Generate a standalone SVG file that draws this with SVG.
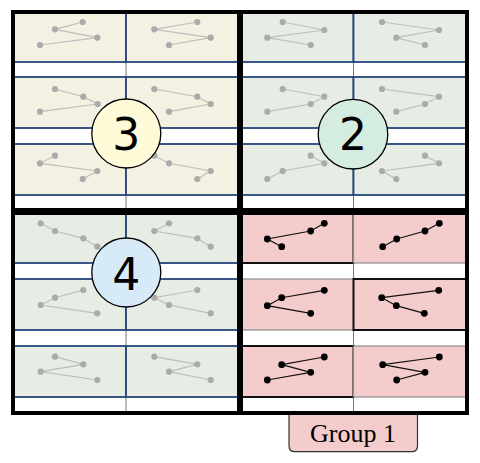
<svg xmlns="http://www.w3.org/2000/svg" width="480" height="463" viewBox="0 0 480 463">
<style>
.pa{fill:#f3f1e1;stroke:#25467a;stroke-width:1.8}
.pb{fill:#e7ece5;stroke:#25467a;stroke-width:1.8}
.pk{fill:#f4cccc;stroke:#111;stroke-width:2}
.pg{fill:#f4cccc;stroke:#8a8a8a;stroke-width:1.2}
.gl{fill:none;stroke:#bdbdbd;stroke-width:1.2;marker-start:url(#gd);marker-mid:url(#gd);marker-end:url(#gd)}
.bl{fill:none;stroke:#111;stroke-width:1.2;marker-start:url(#bd);marker-mid:url(#bd);marker-end:url(#bd)}
.q{fill:none;stroke:#000;stroke-width:4}
.c{stroke:#000;stroke-width:1.3}
.n{font-family:"DejaVu Sans",sans-serif;font-size:44px;text-anchor:middle;fill:#000}
.div{stroke:#777;stroke-width:1}
</style>
<defs>
<marker id="gd" markerWidth="8" markerHeight="8" refX="4" refY="4" markerUnits="userSpaceOnUse"><circle cx="4" cy="4" r="3.1" fill="#ababab"/></marker>
<marker id="bd" markerWidth="9" markerHeight="9" refX="4.5" refY="4.5" markerUnits="userSpaceOnUse"><circle cx="4.5" cy="4.5" r="3.4" fill="#000"/></marker>
</defs>
<rect width="480" height="463" fill="#fff"/>
<g id="dividers">
<line class="div" x1="126" y1="12" x2="126" y2="413"/>
<line class="div" x1="353.5" y1="12" x2="353.5" y2="413"/>
</g>
<g id="group1-label">
<path d="M289,413 V445.7 Q289,451.7 295,451.7 H411.5 Q417.5,451.7 417.5,445.7 V413" fill="#f4cccc" stroke="#333" stroke-width="1.2"/>
<text x="353" y="441.5" font-family="'Liberation Serif',serif" font-size="26" text-anchor="middle" fill="#000">Group 1</text>
</g>
<g id="quadrant3">
<g id="q3-r1-l"><rect class="pa" x="13" y="12" width="113" height="50"/></g>
<g id="q3-r1-r"><rect class="pa" x="126" y="12" width="113" height="50"/></g>
<g id="q3-r2-l"><rect class="pa" x="13" y="77" width="113" height="51"/></g>
<g id="q3-r2-r"><rect class="pa" x="126" y="77" width="113" height="51"/></g>
<g id="q3-r3-l"><rect class="pa" x="13" y="144" width="113" height="51"/></g>
<g id="q3-r3-r"><rect class="pa" x="126" y="144" width="113" height="51"/></g>
</g>
<g id="quadrant2">
<g id="q2-r1-l"><rect class="pb" x="241" y="12" width="112.5" height="50"/></g>
<g id="q2-r1-r"><rect class="pb" x="353.5" y="12" width="113.5" height="50"/></g>
<g id="q2-r2-l"><rect class="pb" x="241" y="77" width="112.5" height="51"/></g>
<g id="q2-r2-r"><rect class="pb" x="353.5" y="77" width="113.5" height="51"/></g>
<g id="q2-r3-l"><rect class="pb" x="241" y="144" width="112.5" height="51"/></g>
<g id="q2-r3-r"><rect class="pb" x="353.5" y="144" width="113.5" height="51"/></g>
</g>
<g id="quadrant4">
<g id="q4-r1-l"><rect class="pb" x="13" y="213" width="113" height="50"/></g>
<g id="q4-r1-r"><rect class="pb" x="126" y="213" width="113" height="50"/></g>
<g id="q4-r2-l"><rect class="pb" x="13" y="279" width="113" height="51"/></g>
<g id="q4-r2-r"><rect class="pb" x="126" y="279" width="113" height="51"/></g>
<g id="q4-r3-l"><rect class="pb" x="13" y="346" width="113" height="51"/></g>
<g id="q4-r3-r"><rect class="pb" x="126" y="346" width="113" height="51"/></g>
</g>
<g id="quadrant1">
<g id="q1-r1-l"><rect class="pk" x="241" y="213" width="112.5" height="50"/></g>
<g id="q1-r1-r"><rect class="pg" x="353.5" y="213" width="113.5" height="50"/></g>
<g id="q1-r2-l"><rect class="pg" x="241" y="279" width="112.5" height="51"/></g>
<g id="q1-r2-r"><rect class="pk" x="353.5" y="279" width="113.5" height="51"/></g>
<g id="q1-r3-l"><rect class="pk" x="241" y="346" width="112.5" height="51"/></g>
<g id="q1-r3-r"><rect class="pg" x="353.5" y="346" width="113.5" height="51"/></g>
</g>
<g id="connectors">
<polyline class="gl" points="82.7,22 55,29.3 97.3,37.7 40,45"/>
<polyline class="gl" points="197.3,22 154.3,29.3 210.7,37.7 169,45"/>
<polyline class="gl" points="55,89 83.3,96.7 97.7,104 40,111.7"/>
<polyline class="gl" points="154.3,89 197.3,96.7 210.7,104 169,111.7"/>
<polyline class="gl" points="55,155.7 40,163.3 97.3,171 82.7,179"/>
<polyline class="gl" points="154.3,155.7 169,163.3 210.7,171 197.3,179"/>
<polyline class="gl" points="282.7,22 324.3,30 267.3,37.7 310.7,45"/>
<polyline class="gl" points="382,22 439,30 396.3,37.7 425,45"/>
<polyline class="gl" points="282.7,89 324.3,96.7 310.7,104 267.3,111.7"/>
<polyline class="gl" points="382,89 439,96.7 425,104 396.3,111.7"/>
<polyline class="gl" points="310.7,155.7 324.3,163.3 282.7,171 267.3,179"/>
<polyline class="gl" points="425,155.7 439,163.3 382,171 396.3,179"/>
<polyline class="gl" points="40.7,223.3 55,231 83.3,238.3 97.3,246.7"/>
<polyline class="gl" points="169,223.3 154.3,231 197.3,238.3 210.7,246.7"/>
<polyline class="gl" points="83.3,290 55,297.7 40.7,305 97.3,313.3"/>
<polyline class="gl" points="197.3,290 154.3,297.7 169,305 210.7,313.3"/>
<polyline class="gl" points="55,356.7 83.3,364.3 40.7,371.7 97.3,380"/>
<polyline class="gl" points="154.3,356.7 197.3,364.3 169,371.7 210.7,380"/>
<polyline class="bl" points="324.3,223.3 310.7,231 267.3,239 281.7,246.7"/>
<polyline class="bl" points="439.3,223.3 425,231 396.7,239 382.7,246.7"/>
<polyline class="bl" points="324.3,290.3 281.7,297.7 267.3,305.7 310.7,313.3"/>
<polyline class="bl" points="438.7,290.3 381.7,297.7 396.3,305.7 424.3,313.3"/>
<polyline class="bl" points="324.3,357 281.7,364.7 310.7,372.3 267.3,380"/>
<polyline class="bl" points="439.3,357 382.7,364.7 425,372.3 396.7,380"/>
</g>
<g id="borders">
<rect class="q" x="13" y="12" width="226" height="198"/>
<rect class="q" x="241" y="12" width="226" height="198"/>
<rect class="q" x="13" y="213" width="226" height="200"/>
<rect class="q" x="241" y="213" width="226" height="200"/>
</g>
<g id="badge3"><circle class="c" cx="126.3" cy="133.5" r="34.5" fill="#fffbd8"/><text class="n" x="126.3" y="150">3</text></g>
<g id="badge2"><circle class="c" cx="353" cy="134.2" r="34.8" fill="#d5ede0"/><text class="n" x="353" y="149.5">2</text></g>
<g id="badge4"><circle class="c" cx="126.3" cy="272.5" r="34.5" fill="#d6eaf8"/><text class="n" x="126.3" y="290">4</text></g>
</svg>
